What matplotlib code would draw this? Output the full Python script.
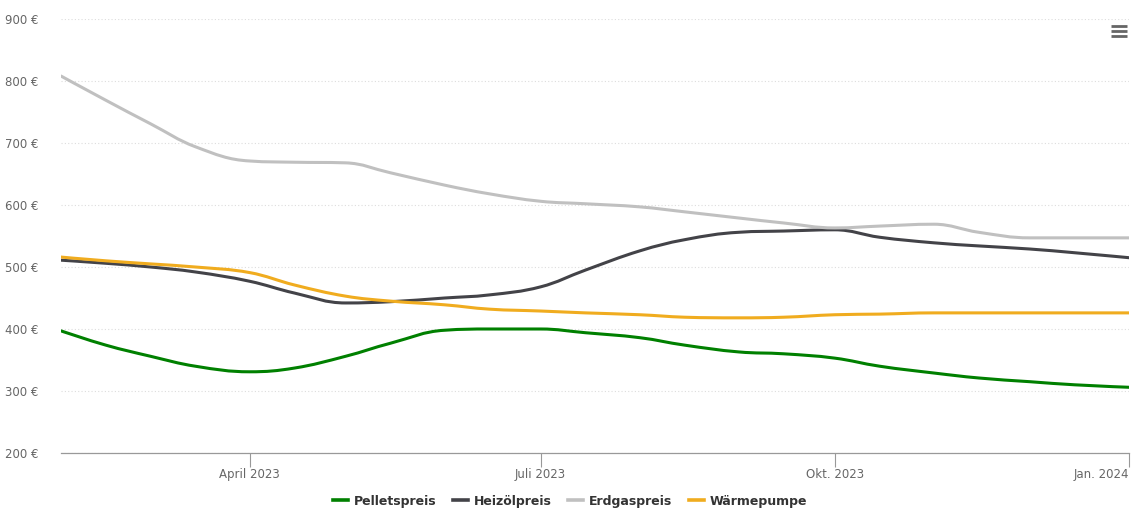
import matplotlib
matplotlib.use("Agg")
import matplotlib.pyplot as plt
import matplotlib.dates as mdates
from matplotlib.path import Path
from matplotlib.patches import PathPatch
from matplotlib.lines import Line2D
from datetime import datetime

dates = ["2023-02-01", "2023-02-15", "2023-03-01", "2023-03-15", "2023-04-01",
         "2023-04-15", "2023-05-01", "2023-05-15", "2023-06-01", "2023-06-15",
         "2023-07-01", "2023-07-15", "2023-08-01", "2023-08-15", "2023-09-01",
         "2023-09-15", "2023-10-01", "2023-10-15", "2023-11-01", "2023-11-15",
         "2023-12-01", "2023-12-15", "2024-01-01"]

pellets = [397, 374, 356, 340, 331, 337, 356, 377, 398, 400, 400, 394,
           386, 374, 363, 360, 353, 340, 329, 321, 315, 310, 306]
heizoel = [511, 506, 500, 492, 477, 458, 442, 444, 450, 455, 468, 495,
           526, 544, 556, 558, 560, 548, 539, 534, 529, 523, 515]
erdgas = [808, 769, 731, 694, 671, 669, 668, 652, 632, 618, 606, 602,
          597, 589, 579, 571, 563, 566, 569, 556, 547, 547, 547]
waerme = [516, 510, 505, 500, 491, 471, 453, 445, 439, 432, 429, 426,
          423, 419, 418, 419, 423, 424, 426, 426, 426, 426, 426]

series = [("Pelletspreis", pellets, "#008000"),
          ("Heizölpreis", heizoel, "#434348"),
          ("Erdgaspreis", erdgas, "#c0c0c0"),
          ("Wärmepumpe", waerme, "#f0ac1f")]

tick_dates = ["2023-04-01", "2023-07-01", "2023-10-01", "2024-01-01"]
tick_labels = ["April 2023", "Juli 2023", "Okt. 2023", "Jan. 2024"]
y_ticks = [200, 300, 400, 500, 600, 700, 800, 900]


def spline_path(xs, ys):
    # highcharts-like spline: bezier control points per point
    n = len(xs)
    left = [(xs[i], ys[i]) for i in range(n)]
    right = [(xs[i], ys[i]) for i in range(n)]
    sm, den = 1.5, 2.5
    for i in range(1, n - 1):
        x, y = xs[i], ys[i]
        lx = (sm * x + xs[i - 1]) / den
        ly = (sm * y + ys[i - 1]) / den
        rx = (sm * x + xs[i + 1]) / den
        ry = (sm * y + ys[i + 1]) / den
        if rx != lx:
            corr = (ry - ly) * (rx - x) / (rx - lx) + y - ry
            ly += corr
            ry += corr
        py, ny = ys[i - 1], ys[i + 1]
        if ly > py and ly > y:
            ly = max(py, y)
            ry = 2 * y - ly
        elif ly < py and ly < y:
            ly = min(py, y)
            ry = 2 * y - ly
        if ry > ny and ry > y:
            ry = max(ny, y)
            ly = 2 * y - ry
        elif ry < ny and ry < y:
            ry = min(ny, y)
            ly = 2 * y - ry
        left[i] = (lx, ly)
        right[i] = (rx, ry)
    verts = [(xs[0], ys[0])]
    codes = [Path.MOVETO]
    for i in range(1, n):
        verts += [right[i - 1], left[i], (xs[i], ys[i])]
        codes += [Path.CURVE4] * 3
    return Path(verts, codes)


x = [mdates.date2num(datetime.strptime(d, "%Y-%m-%d")) for d in dates]

fig = plt.figure(figsize=(11.4, 5.29), dpi=100)
ax = fig.add_axes([61 / 1140, 76 / 529, 1068 / 1140, 434 / 529])

handles = []
for name, vals, col in series:
    p = spline_path(x, vals)
    ax.add_patch(PathPatch(p, fill=False, edgecolor=col, lw=2.2,
                           capstyle="round", joinstyle="round", zorder=3))
    handles.append(Line2D([], [], color=col, lw=2.6, label=name))

ax.set_xlim(x[0], x[-1])
ax.set_ylim(200, 900)

ax.set_yticks(y_ticks)
ax.set_yticklabels([f"{v} €" for v in y_ticks])
ax.grid(axis="y", color="#dddddd", linestyle=(0, (1, 2)), lw=0.8)
ax.set_axisbelow(True)

tx = [mdates.date2num(datetime.strptime(d, "%Y-%m-%d")) for d in tick_dates]
ax.set_xticks(tx)
ax.set_xticklabels(tick_labels)
ax.get_xticklabels()[-1].set_ha("right")

for s in ["top", "right", "left"]:
    ax.spines[s].set_visible(False)
ax.spines["bottom"].set_color("#999999")
ax.spines["bottom"].set_linewidth(0.9)
ax.tick_params(axis="x", length=10, width=0.8, color="#999999",
               labelsize=8.5, labelcolor="#666666", pad=1)
ax.tick_params(axis="y", length=0, labelsize=8.5, labelcolor="#666666", pad=16)

leg = fig.legend(handles=handles, loc="center", bbox_to_anchor=(0.5, 1 - 501 / 529),
                 ncol=4, frameon=False, handlelength=1.2, columnspacing=1.3,
                 handletextpad=0.5, prop={"weight": "bold", "size": 9})
for t in leg.get_texts():
    t.set_color("#333333")

# menu icon
for yy in [26, 31, 36]:
    fig.add_artist(Line2D([1111 / 1140, 1127 / 1140], [1 - yy / 529, 1 - yy / 529],
                          color="#666666", lw=2.0, solid_capstyle="butt"))

fig.savefig("out.png", dpi=100)
